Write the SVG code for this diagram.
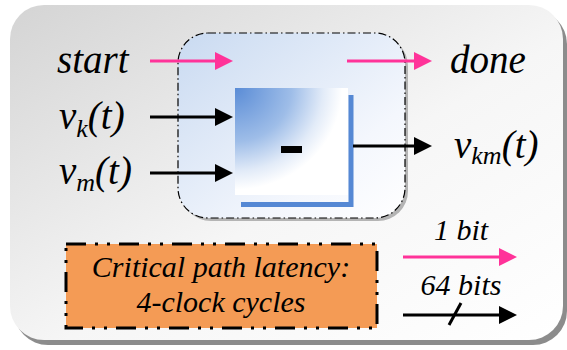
<svg xmlns="http://www.w3.org/2000/svg" width="567" height="350" viewBox="0 0 567 350">
  <defs>
    <linearGradient id="panelFill" x1="0" y1="0" x2="1" y2="1">
      <stop offset="0" stop-color="#d4d4d4"/>
      <stop offset="0.55" stop-color="#f6f6f6"/>
      <stop offset="1" stop-color="#ffffff"/>
    </linearGradient>
    <linearGradient id="blockFill" x1="0" y1="0" x2="1" y2="1">
      <stop offset="0" stop-color="#c9daf1"/>
      <stop offset="0.7" stop-color="#f4f7fd"/>
      <stop offset="1" stop-color="#ffffff"/>
    </linearGradient>
    <radialGradient id="subFill" cx="0" cy="0" r="1" fx="0" fy="0">
      <stop offset="0" stop-color="#5a8cd6"/>
      <stop offset="0.5" stop-color="#9ebde8"/>
      <stop offset="0.78" stop-color="#e2ebf8"/>
      <stop offset="0.95" stop-color="#ffffff"/>
    </radialGradient>
    <marker id="headPink" markerUnits="userSpaceOnUse" markerWidth="18" markerHeight="18" refX="10" refY="9" orient="auto">
      <path d="M0,0 L18,9 L0,18 z" fill="#ff3399"/>
    </marker>
    <marker id="headBlack" markerUnits="userSpaceOnUse" markerWidth="18" markerHeight="18" refX="10" refY="9" orient="auto">
      <path d="M0,0 L18,9 L0,18 z" fill="#000"/>
    </marker>
  </defs>

  <!-- background panel with drop shadow -->
  <g id="panel">
    <rect x="14" y="10" width="553" height="335" rx="34" fill="#8c8c8c"/>
    <rect x="10" y="5" width="553" height="335" rx="34" fill="url(#panelFill)"/>
  </g>

  <!-- subtractor block: dashed rounded container -->
  <g id="block">
    <rect x="181" y="36" width="227" height="185" rx="30" fill="#b4b4b4"/>
    <rect x="178" y="33" width="227" height="185" rx="30" fill="url(#blockFill)" stroke="#000" stroke-width="1.2" stroke-dasharray="8 3 1.5 3"/>
  </g>

  <!-- subtractor unit -->
  <g id="subtractor">
    <rect x="235" y="88" width="113" height="107" fill="url(#subFill)"/>
    <polyline points="351,95 351,204.5 241,204.5" fill="none" stroke="#5588d4" stroke-width="5"/>
    <rect x="281" y="146" width="21" height="7" fill="#000"/>
  </g>

  <!-- port labels -->
  <g id="label-start"><text x="57" y="73" font-family="Liberation Serif" font-style="italic" font-size="39" style="font-family:'Liberation Serif',serif !important;font-style:italic">start</text></g>
  <g id="label-done"><text x="450" y="73" font-family="Liberation Serif" font-style="italic" font-size="39" style="font-family:'Liberation Serif',serif !important;font-style:italic">done</text></g>
  <g id="label-vk"><text x="59" y="129" font-family="Liberation Serif" font-style="italic" font-size="39" style="font-family:'Liberation Serif',serif !important;font-style:italic">v<tspan font-size="26" dy="8">k</tspan><tspan dy="-8">(t)</tspan></text></g>
  <g id="label-vm"><text x="59" y="184" font-family="Liberation Serif" font-style="italic" font-size="39" style="font-family:'Liberation Serif',serif !important;font-style:italic">v<tspan font-size="26" dy="7">m</tspan><tspan dy="-7">(t)</tspan></text></g>
  <g id="label-vkm"><text x="454" y="158" font-family="Liberation Serif" font-style="italic" font-size="39" style="font-family:'Liberation Serif',serif !important;font-style:italic">v<tspan font-size="26" dy="6">km</tspan><tspan dy="-6">(t)</tspan></text></g>

  <!-- latency note -->
  <g id="latency">
    <rect x="66" y="244" width="311" height="84" fill="#f49b55" stroke="#000" stroke-width="3" stroke-dasharray="20 9 3 9 3 9"/>
    <text x="221" y="277" text-anchor="middle" font-family="Liberation Serif" font-style="italic" font-size="30" style="font-family:'Liberation Serif',serif !important;font-style:italic">Critical path latency:</text>
    <text x="221" y="312" text-anchor="middle" font-family="Liberation Serif" font-style="italic" font-size="30" style="font-family:'Liberation Serif',serif !important;font-style:italic">4-clock cycles</text>
  </g>

  <!-- legend -->
  <g id="legend">
    <text x="461" y="240" text-anchor="middle" font-family="Liberation Serif" font-style="italic" font-size="30" style="font-family:'Liberation Serif',serif !important;font-style:italic">1 bit</text>
    <text x="461" y="295" text-anchor="middle" font-family="Liberation Serif" font-style="italic" font-size="30" style="font-family:'Liberation Serif',serif !important;font-style:italic">64 bits</text>
  </g>

  <!-- connectors: pink = 1-bit control, black = 64-bit data -->
  <g id="connectors" stroke-width="3" fill="none">
    <g stroke="#ff3399" marker-end="url(#headPink)">
      <line x1="150" y1="61" x2="225" y2="61"/>
      <line x1="347" y1="61" x2="424" y2="61"/>
      <line x1="403" y1="257" x2="509" y2="257"/>
    </g>
    <g stroke="#000" marker-end="url(#headBlack)">
      <line x1="150" y1="117" x2="225" y2="117"/>
      <line x1="150" y1="173" x2="225" y2="173"/>
      <line x1="353" y1="146" x2="424" y2="146"/>
      <line x1="403" y1="315" x2="509" y2="315"/>
    </g>
    <line x1="449" y1="325" x2="461" y2="303" stroke="#000"/>
  </g>
</svg>
